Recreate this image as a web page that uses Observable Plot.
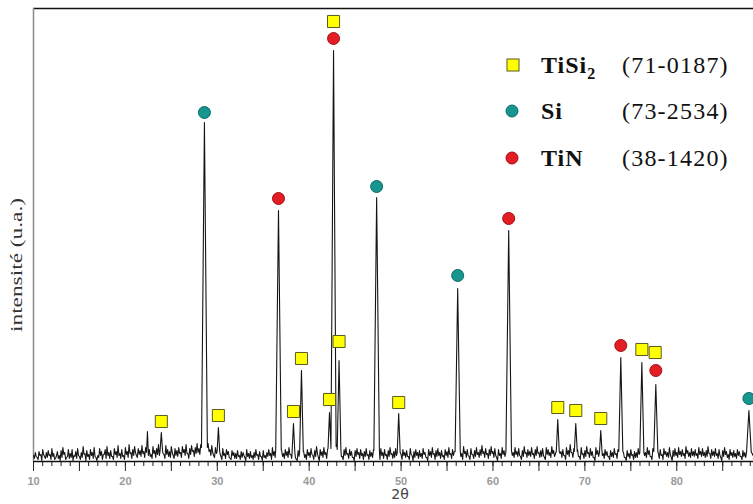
<!DOCTYPE html>
<html>
<head>
<meta charset="utf-8">
<script src="https://cdn.jsdelivr.net/npm/d3@7"></script>
<script src="https://cdn.jsdelivr.net/npm/@observablehq/plot@0.6"></script>
<style>
  html, body { margin: 0; padding: 0; background: #fff; }
  #wrap { position: relative; width: 753px; height: 504px; overflow: hidden; }
  #wrap > svg { position: absolute; left: 0; top: 0; }
  #legend { position: absolute; left: 0; top: 0; pointer-events: none; }
  .serif { font-family: "Liberation Serif", "Times New Roman", serif; }
</style>
</head>
<body>
<div id="wrap"></div>
<script>
// ---- data (intensity in arbitrary units) ----
// background noise: local maxima every 0.2° starting at 10.0°
const noiseTopStart = 10.0;
const noiseTops = [
  6, 9, 4, 10, 7, 12, 5, 9, 11, 7,
  13, 8, 3, 10, 6, 11, 14, 9, 4, 12,
  8, 12, 6, 10, 13, 5, 9, 15, 8, 11,
  7, 12, 9, 14, 4, 6, 13, 10, 7, 12,
  15, 9, 11, 5, 13, 10, 16, 8, 12, 6,
  14, 10, 17, 9, 12, 15, 6, 13, 11, 16,
  10, 14, 30, 12, 7, 15, 11, 13, 17, 10,
  14, 7, 16, 12, 10, 15, 6, 13, 11, 14,
  9, 15, 12, 17, 8, 13, 16, 11, 14, 18,
  13, 17, 20, 16, 14, 18, 12, 16, 6, 14,
  11, 15, 5, 13, 8, 12, 10, 3, 11, 9,
  8, 11, 6, 10, 9, 4, 12, 8, 10, 6,
  9, 12, 7, 10, 5, 11, 6, 9, 12, 8,
  14, 10, 13, 4, 15, 11, 8, 12, 10, 14,
  7, 12, 9, 2, 11, 8, 14, 10, 7, 12,
  9, 13, 6, 11, 15, 4, 12, 10, 14, 9,
  12, 14, 16, 18, 15, 17, 13, 11, 5, 12,
  14, 8, 12, 10, 4, 11, 13, 9, 12, 8,
  10, 13, 7, 11, 9, 12, 14, 10, 5, 13,
  9, 12, 7, 11, 14, 8, 10, 13, 4, 11,
  7, 12, 9, 11, 5, 13, 6, 10, 12, 9,
  11, 8, 13, 9, 4, 12, 10, 14, 8, 11,
  13, 9, 11, 6, 12, 10, 14, 8, 12, 10,
  9, 13, 11, 8, 15, 10, 12, 5, 13, 7,
  11, 14, 9, 12, 16, 10, 13, 8, 12, 15,
  10, 13, 4, 12, 8, 14, 11, 9, 13, 10,
  12, 9, 14, 10, 13, 5, 11, 15, 9, 12,
  10, 14, 8, 12, 15, 9, 11, 13, 4, 14,
  12, 9, 15, 11, 8, 13, 16, 10, 12, 6,
  14, 11, 17, 9, 13, 15, 12, 5, 14, 8,
  11, 15, 9, 13, 10, 4, 14, 11, 9, 13,
  8, 12, 10, 5, 11, 9, 13, 8, 12, 10,
  15, 9, 4, 11, 8, 12, 7, 10, 9, 13,
  10, 8, 12, 9, 14, 11, 5, 13, 9, 12,
  8, 12, 7, 13, 10, 9, 14, 4, 11, 13,
  9, 14, 10, 12, 8, 15, 11, 9, 13, 10,
  12, 8, 14, 10, 13, 9, 11, 15, 8, 12,
  10, 13, 8, 12, 4, 11, 14, 10, 7, 12,
  9, 11, 8, 12, 10, 5, 11, 9, 13, 10,
  11, 8, 12
];
// background noise: local minima every 0.2° starting at 10.1°
const noiseLowStart = 10.1;
const noiseLows = [
  3, 5, 2, 6, 1, 7, 3, 4, 6, 2,
  5, 2, 6, 3, 1, 4, 7, 2, 5, 3,
  4, 1, 5, 3, 6, 2, 4, 7, 1, 5,
  2, 6, 3, 5, 1, 4, 6, 2, 7, 3,
  6, 3, 5, 2, 7, 4, 6, 3, 5, 2,
  7, 4, 8, 3, 6, 9, 4, 7, 5, 8,
  4, 9, 6, 5, 3, 8, 4, 7, 6, 5,
  8, 3, 7, 5, 4, 9, 3, 6, 5, 8,
  4, 9, 6, 8, 3, 7, 10, 5, 8, 9,
  7, 9, 11, 8, 7, 10, 6, 9, 4, 8,
  5, 8, 2, 6, 3, 7, 4, 2, 6, 3,
  3, 5, 2, 4, 6, 1, 5, 3, 4, 2,
  4, 6, 2, 5, 1, 4, 3, 5, 6, 2,
  6, 4, 7, 2, 8, 5, 3, 6, 4, 7,
  3, 6, 4, 1, 5, 3, 7, 4, 2, 6,
  4, 7, 2, 5, 8, 1, 6, 4, 7, 3,
  6, 8, 9, 10, 8, 9, 6, 5, 2, 6,
  7, 3, 6, 4, 1, 5, 7, 3, 6, 2,
  5, 6, 2, 5, 4, 6, 7, 4, 2, 6,
  3, 6, 2, 5, 7, 3, 4, 6, 1, 5,
  2, 6, 4, 5, 2, 7, 1, 4, 6, 3,
  5, 3, 7, 4, 1, 6, 4, 7, 2, 5,
  6, 3, 5, 2, 6, 4, 7, 3, 6, 4,
  4, 7, 5, 2, 8, 4, 6, 2, 7, 3,
  5, 7, 4, 6, 8, 4, 7, 3, 6, 8,
  4, 6, 1, 6, 3, 7, 5, 4, 6, 4,
  6, 4, 7, 5, 6, 2, 5, 8, 4, 6,
  5, 7, 3, 6, 8, 4, 5, 6, 2, 7,
  6, 4, 8, 5, 3, 7, 8, 4, 6, 2,
  7, 5, 9, 4, 6, 8, 5, 2, 7, 3,
  5, 8, 4, 6, 4, 1, 7, 5, 4, 6,
  3, 6, 5, 2, 5, 4, 7, 3, 6, 4,
  8, 4, 1, 5, 3, 6, 2, 4, 4, 7,
  5, 3, 6, 4, 7, 5, 2, 6, 4, 6,
  3, 6, 2, 7, 5, 4, 7, 1, 5, 6,
  4, 7, 5, 6, 3, 8, 5, 4, 6, 5,
  6, 3, 7, 5, 6, 4, 5, 8, 3, 6,
  5, 6, 3, 6, 1, 5, 7, 4, 2, 6,
  4, 5, 3, 6, 5, 2, 5, 4, 6, 5,
  4, 6
];
const noiseStep = 0.2;

// diffraction peaks: position (2θ), top intensity, half width at base, base level
const peakPos  = [23.91, 28.6, 30.12, 36.66, 38.29, 39.16, 42.21, 42.65, 43.25, 47.34, 49.74, 56.16, 61.71, 67.05, 69.01, 71.73, 73.91, 76.2, 77.72, 87.85];
const peakTop  = [29,    339,  34,    251,   38,    91,    49,    411,   101,   264,   48,    173,   231,   42,    38,    31,    104,   99,   77,    51];
const peakHalf = [0.14,  0.32, 0.14,  0.3,   0.15,  0.2,   0.16,  0.28,  0.2,   0.3,   0.16,  0.28,  0.3,   0.16,  0.16,  0.14,  0.22,  0.22, 0.22,  0.26];
const peakBase = [10,    14,   10,    12,    9,     10,    13,    15,    12,    11,    9,     10,    11,    10,    10,    9,     10,    9,    10,    9];

// phase markers: 2θ position and marker height
const tisi2X = [23.91, 30.12, 38.29, 39.16, 42.21, 42.65, 43.25, 49.74, 67.05, 69.01, 71.73, 76.2, 77.65];
const tisi2Y = [40,    46,    50,    103,   62,    440,   120,   59,    54,    51,    43,    112,  109];
const siX = [28.6, 47.34, 56.16, 87.85];
const siY = [349,  275,   186,   63];
const tinX = [36.66, 42.65, 61.71, 73.91, 77.72];
const tinY = [263,   423,   243,   116,   91];

const legendNames = ["TiSi", "Si", "TiN"];
const legendRefs = ["(71-0187)", "(73-2534)", "(38-1420)"];
const yTitle = "intensité (u.a.)";
const xTitle = "2θ";

const xMajor = [10, 20, 30, 40, 50, 60, 70, 80];

// ---- build the pattern ----
const peaks = peakPos.map((p, i) => ({pos: p, top: peakTop[i], hw: peakHalf[i], base: peakBase[i]}));
let trace = [
  ...noiseTops.map((v, i) => ({x: +(noiseTopStart + i * noiseStep).toFixed(2), y: v})),
  ...noiseLows.map((v, i) => ({x: +(noiseLowStart + i * noiseStep).toFixed(2), y: v}))
].filter(d => !peaks.some(p => Math.abs(d.x - p.pos) <= p.hw));
peaks.forEach(p => {
  trace.push({x: p.pos - p.hw, y: p.base}, {x: p.pos, y: p.top}, {x: p.pos + p.hw, y: p.base});
});
trace.sort((a, b) => a.x - b.x);

const tisi2 = tisi2X.map((x, i) => ({x, y: tisi2Y[i]}));
const si = siX.map((x, i) => ({x, y: siY[i]}));
const tin = tinX.map((x, i) => ({x, y: tinY[i]}));

const minorTicks = d3.range(10, 89, 1);
const midTicks = d3.range(15, 89, 10);

const chart = Plot.plot({
  width: 753,
  height: 504,
  marginLeft: 33,
  marginRight: 0,
  marginTop: 8,
  marginBottom: 43,
  style: {background: "#fff", overflow: "visible"},
  x: {domain: [10, 88.35]},
  y: {domain: [0, 453], axis: null},
  marks: [
    Plot.axisX({ticks: minorTicks, tickSize: 5, text: null, label: null, stroke: "#222"}),
    Plot.axisX({ticks: midTicks, tickSize: 10, text: null, label: null, stroke: "#222"}),
    Plot.axisX({ticks: xMajor, tickSize: 10, tickPadding: 6, label: null, stroke: "#222",
                fill: "#9a9a9a", fontSize: 11, fontWeight: "bold", fontFamily: "Liberation Sans, Arial, sans-serif",
                tickFormat: d => String(d)}),
    Plot.ruleY([0], {stroke: "#111", strokeWidth: 1.3}),
    Plot.ruleY([453], {stroke: "#111", strokeWidth: 1.3}),
    Plot.ruleX([10], {stroke: "#8a8a8a", strokeWidth: 1.5}),
    Plot.line(trace, {x: "x", y: "y", stroke: "#151515", strokeWidth: 1.1, clip: true}),
    Plot.dot(tisi2, {x: "x", y: "y", symbol: "square", r: 6.8, fill: "#ffff00", stroke: "#5c5a24", strokeWidth: 1}),
    Plot.dot(si, {x: "x", y: "y", symbol: "circle", r: 6, fill: "#17958f", stroke: "#0c6a66", strokeWidth: 1}),
    Plot.dot(tin, {x: "x", y: "y", symbol: "circle", r: 6, fill: "#e41c24", stroke: "#9e1016", strokeWidth: 1})
  ]
});

const wrap = document.getElementById("wrap");
wrap.appendChild(chart);

// ---- titles and legend overlay ----
const ns = "http://www.w3.org/2000/svg";
const leg = document.createElementNS(ns, "svg");
leg.setAttribute("id", "legend");
leg.setAttribute("width", 753);
leg.setAttribute("height", 504);

const yt = document.createElementNS(ns, "text");
yt.setAttribute("transform", "translate(18,265) rotate(-90)");
yt.setAttribute("text-anchor", "middle");
yt.setAttribute("dominant-baseline", "middle");
yt.setAttribute("class", "serif");
yt.setAttribute("font-size", 16);
yt.setAttribute("textLength", 134);
yt.setAttribute("lengthAdjust", "spacingAndGlyphs");
yt.setAttribute("fill", "#333");
yt.textContent = yTitle;
leg.appendChild(yt);

const xt = document.createElementNS(ns, "text");
xt.setAttribute("x", 400);
xt.setAttribute("y", 499);
xt.setAttribute("text-anchor", "middle");
xt.setAttribute("font-family", "'DejaVu Sans', sans-serif");
xt.setAttribute("font-size", 14);
xt.setAttribute("fill", "#444");
xt.textContent = xTitle;
leg.appendChild(xt);

const rowsY = [65, 111, 158];
const symFill = ["#ffff00", "#17958f", "#e41c24"];
const symStroke = ["#5c5a24", "#0c6a66", "#9e1016"];
legendNames.forEach((name, i) => {
  const cy = rowsY[i];
  let s;
  if (i === 0) {
    s = document.createElementNS(ns, "rect");
    s.setAttribute("x", 507); s.setAttribute("y", cy - 6);
    s.setAttribute("width", 12); s.setAttribute("height", 12);
  } else {
    s = document.createElementNS(ns, "circle");
    s.setAttribute("cx", 512); s.setAttribute("cy", cy); s.setAttribute("r", 6);
  }
  s.setAttribute("fill", symFill[i]); s.setAttribute("stroke", symStroke[i]);
  leg.appendChild(s);
  const t = document.createElementNS(ns, "text");
  t.setAttribute("x", 541); t.setAttribute("y", cy + 8);
  t.setAttribute("class", "serif");
  t.setAttribute("font-size", 24); t.setAttribute("font-weight", "bold");
  t.setAttribute("letter-spacing", "1");
  t.setAttribute("fill", "#111");
  t.textContent = name;
  if (i === 0) {
    const sub = document.createElementNS(ns, "tspan");
    sub.setAttribute("font-size", 16); sub.setAttribute("dy", 6);
    sub.textContent = "2";
    t.appendChild(sub);
  }
  leg.appendChild(t);
  const r = document.createElementNS(ns, "text");
  r.setAttribute("x", 622); r.setAttribute("y", cy + 8);
  r.setAttribute("class", "serif");
  r.setAttribute("font-size", 24); r.setAttribute("letter-spacing", "1.2");
  r.setAttribute("fill", "#111");
  r.textContent = legendRefs[i];
  leg.appendChild(r);
});
wrap.appendChild(leg);
</script>
</body>
</html>
